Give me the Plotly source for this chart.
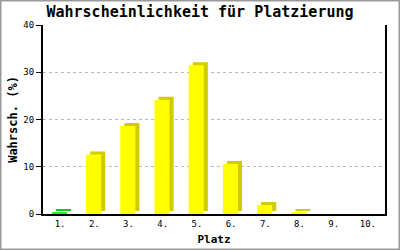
import plotly.graph_objects as go

categories = ["1.", "2.", "3.", "4.", "5.", "6.", "7.", "8.", "9.", "10."]
values = [0.4, 12.6, 18.6, 24.2, 31.5, 10.6, 1.9, 0.3, 0, 0]
front_colors = ["#22ee22"] + ["#ffff00"] * 9
side_colors = ["#11cc11"] + ["#d0cc00"] * 9
y_ticks = [0, 10, 20, 30, 40]

L, R, T, B = 43, 15, 25, 36
W, H = 400, 250
pw, ph = W - L - R, H - T - B
depth_y = 3 / ph * 40  # data units of 3px

MONO = "DejaVu Sans Mono"

fig = go.Figure()
fig.add_trace(go.Bar(
    x=categories, y=values, base=[depth_y] * len(values),
    width=0.44, offset=-0.12,
    marker=dict(color=side_colors, line=dict(width=0)),
    hoverinfo="skip", showlegend=False,
))
fig.add_trace(go.Bar(
    x=categories, y=values,
    width=0.44, offset=-0.24,
    marker=dict(color=front_colors, line=dict(width=0)),
    showlegend=False,
))
fig.add_trace(go.Scatter(x=[categories[0]], y=[None], yaxis="y2",
                         showlegend=False, hoverinfo="skip"))

fig.update_layout(
    width=W, height=H,
    margin=dict(l=L, r=R, t=T, b=B, pad=0, autoexpand=False),
    barmode="overlay", showlegend=False,
    paper_bgcolor="white", plot_bgcolor="white",
    font=dict(family=MONO, color="black"),
    title=dict(text="<b>Wahrscheinlichkeit für Platzierung</b>",
               font=dict(size=15, family=MONO),
               x=0.5, xanchor="center", xref="container",
               y=1 - 12 / H, yanchor="middle"),
    xaxis=dict(
        type="category", range=[-0.5, 9.5], automargin=False,
        showline=True, linecolor="black", linewidth=2,
        ticks="", showgrid=False, zeroline=False,
        tickfont=dict(size=9, family=MONO),
        title=dict(text="<b>Platz</b>", font=dict(size=11, family=MONO), standoff=8),
    ),
    yaxis=dict(
        range=[0, 40], tickvals=y_ticks, automargin=False,
        showline=True, linecolor="black", linewidth=2, mirror=False,
        ticks="outside", ticklen=5, tickcolor="black", tickwidth=1,
        showgrid=True, gridcolor="#bbbbbb", griddash="dot", gridwidth=1,
        zeroline=False,
        tickfont=dict(size=9, family=MONO),
        title=dict(text="<b>Wahrsch. (%)</b>", font=dict(size=12, family=MONO), standoff=3),
    ),
    yaxis2=dict(overlaying="y", side="right", range=[0, 40], showline=True,
                automargin=False,
                linecolor="black", linewidth=2, showticklabels=False, showgrid=False,
                zeroline=False, ticks=""),
)

fig.add_shape(type="rect", xref="paper", yref="paper",
              x0=(0.5 - L) / pw, x1=(W - 0.5 - L) / pw,
              y0=(ph + T - (H - 0.5)) / ph, y1=(ph + T - 0.5) / ph,
              line=dict(color="#999999", width=2), layer="above")

fig.write_html("out.html")
